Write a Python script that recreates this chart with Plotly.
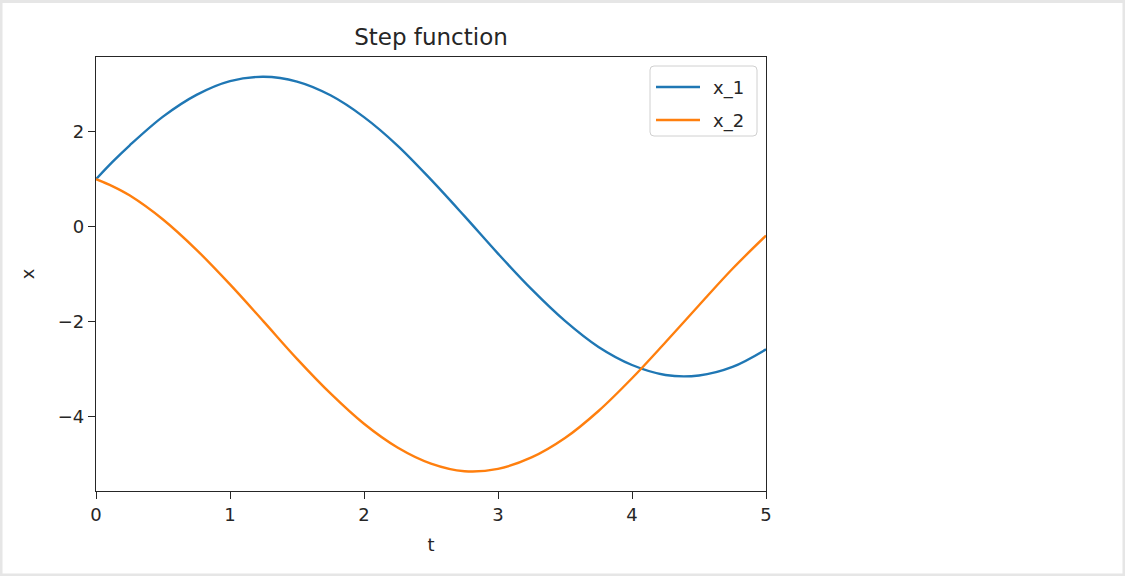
import plotly.graph_objects as go

# Sampled state trajectories of the system under a step input
t = [0.0, 0.125, 0.25, 0.5, 0.75, 1.0, 1.25, 1.5, 1.75, 2.0, 2.25, 2.5,
     2.75, 3.0, 3.25, 3.5, 3.75, 4.0, 4.25, 4.5, 4.75, 5.0]
x_1 = [1.00, 1.37, 1.71, 2.32, 2.78, 3.07, 3.16, 3.06, 2.77, 2.31, 1.71, 0.99,
       0.22, -0.57, -1.32, -1.99, -2.54, -2.92, -3.13, -3.14, -2.96, -2.59]
x_2 = [1.00, 0.85, 0.66, 0.15, -0.49, -1.22, -2.00, -2.79, -3.52, -4.16, -4.66, -5.00,
       -5.16, -5.11, -4.87, -4.46, -3.89, -3.20, -2.44, -1.66, -0.89, -0.19]

series_names = ["x_1", "x_2"]
series_colors = ["#1f77b4", "#ff7f0e"]

x_ticks = [0, 1, 2, 3, 4, 5]
y_ticks = [-4, -2, 0, 2]
y_tick_text = ["\u22124", "\u22122", "0", "2"]

FONT = "DejaVu Sans"
AXIS_COLOR = "#262626"

# Plot area in pixels (left, right, top, bottom)
L, R, T, B = 96, 766, 57, 491
W, H = 1125, 576


def px_x(p):
    return (p - L) / (R - L)


def px_y(p):
    return (B - p) / (B - T)


fig = go.Figure()
for name, ys, color in zip(series_names, [x_1, x_2], series_colors):
    fig.add_trace(go.Scatter(x=t, y=ys, mode="lines", name=name, showlegend=False,
                             line=dict(color=color, width=2.4, shape="spline")))

axis_common = dict(
    showgrid=False, zeroline=False, showline=True, mirror=True,
    linecolor=AXIS_COLOR, linewidth=1.3,
    ticks="outside", ticklen=7, tickwidth=1.2, tickcolor=AXIS_COLOR,
    tickfont=dict(family=FONT, size=18, color=AXIS_COLOR),
)

# Legend box with rounded corners, drawn in paper coordinates
lx0, lx1, ly0, ly1, rad = 650, 757, 66, 136, 4


def rounded_rect_path(x0, x1, y0, y1, r):
    pts = [
        f"M {px_x(x0 + r)} {px_y(y0)}",
        f"L {px_x(x1 - r)} {px_y(y0)}",
        f"Q {px_x(x1)} {px_y(y0)} {px_x(x1)} {px_y(y0 + r)}",
        f"L {px_x(x1)} {px_y(y1 - r)}",
        f"Q {px_x(x1)} {px_y(y1)} {px_x(x1 - r)} {px_y(y1)}",
        f"L {px_x(x0 + r)} {px_y(y1)}",
        f"Q {px_x(x0)} {px_y(y1)} {px_x(x0)} {px_y(y1 - r)}",
        f"L {px_x(x0)} {px_y(y0 + r)}",
        f"Q {px_x(x0)} {px_y(y0)} {px_x(x0 + r)} {px_y(y0)}",
        "Z",
    ]
    return " ".join(pts)


shapes = [
    # light frame around the page
    dict(type="rect", xref="paper", yref="paper",
         x0=px_x(1), x1=px_x(W - 1), y0=px_y(H - 1), y1=px_y(1.5),
         line=dict(color="#e6e6e6", width=3), layer="below"),
    dict(type="path", xref="paper", yref="paper",
         path=rounded_rect_path(lx0, lx1, ly0, ly1, rad),
         fillcolor="rgba(255,255,255,0.8)", line=dict(color="#d0d0d0", width=1)),
]
annotations = []
entry_y = [87, 120]
for name, color, ey in zip(series_names, series_colors, entry_y):
    shapes.append(dict(type="line", xref="paper", yref="paper",
                       x0=px_x(656), x1=px_x(700), y0=px_y(ey), y1=px_y(ey),
                       line=dict(color=color, width=2.4)))
    annotations.append(dict(xref="paper", yref="paper", x=px_x(711), y=px_y(ey + 1),
                            xanchor="left", yanchor="middle", showarrow=False,
                            text=name, font=dict(family=FONT, size=18, color=AXIS_COLOR)))

fig.update_layout(
    width=W, height=H,
    margin=dict(l=L, r=W - R, t=T, b=H - B),
    paper_bgcolor="white", plot_bgcolor="white",
    font=dict(family=FONT, size=18, color=AXIS_COLOR),
    title=dict(text="Step function", x=(L + R) / 2 / W, xanchor="center",
               y=1 - 37 / H, yanchor="middle",
               font=dict(family=FONT, size=23, color=AXIS_COLOR)),
    xaxis=dict(axis_common, range=[0, 5], tickvals=x_ticks,
               title=dict(text="t", standoff=14, font=dict(family=FONT, size=18))),
    yaxis=dict(axis_common, range=[-5.578, 3.578], tickvals=y_ticks,
               ticktext=y_tick_text,
               title=dict(text="x", standoff=18, font=dict(family=FONT, size=18))),
    showlegend=False,
    shapes=shapes,
    annotations=annotations,
)

fig.write_html("out.html")
